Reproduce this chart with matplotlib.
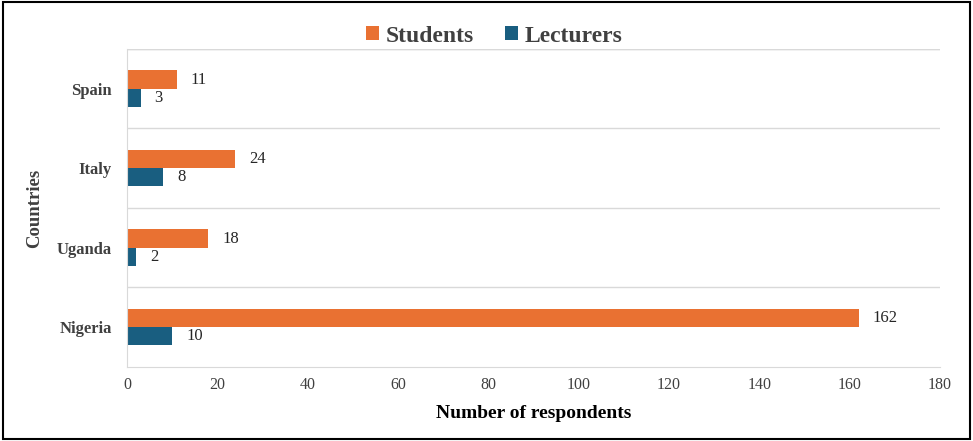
import numpy as np
import matplotlib.pyplot as plt
from matplotlib.patches import Rectangle

countries = ["Nigeria", "Uganda", "Italy", "Spain"]
students = [162, 18, 24, 11]
lecturers = [10, 2, 8, 3]

ORANGE = "#E97132"
BLUE = "#195E80"
GRID = "#D9D9D9"

plt.rcParams["font.family"] = ["Liberation Serif", "DejaVu Serif"]

fig = plt.figure(figsize=(9.73, 4.41), dpi=100)
ax = fig.add_axes([0.1305, 0.168, 0.8356, 0.721])

y = np.arange(len(countries))
h = 0.23
b1 = ax.barh(y + h / 2, students, height=h, color=ORANGE, label="Students")
b2 = ax.barh(y - h / 2, lecturers, height=h, color=BLUE, label="Lecturers")

for bars, vals in ((b1, students), (b2, lecturers)):
    for bar, v in zip(bars, vals):
        ax.annotate(str(v), (v, bar.get_y() + bar.get_height() / 2),
                    xytext=(10, 0), textcoords="offset points",
                    va="center", ha="left", fontsize=12, color="#262626")

ax.set_xlim(0, 180)
ax.set_ylim(-0.5, len(countries) - 0.5)
ax.set_xticks(np.arange(0, 181, 20))
ax.set_yticks(y)
ax.set_yticklabels(countries, fontweight="bold", fontsize=12, color="#404040")
ax.tick_params(axis="x", labelsize=11.5, labelcolor="#404040", length=0, pad=7)
ax.tick_params(axis="y", length=0, pad=11)

# category separators
for yy in np.arange(0.5, len(countries), 1.0):
    ax.axhline(yy, color=GRID, lw=1, zorder=0)

for s in ("top", "right"):
    ax.spines[s].set_visible(False)
ax.spines["left"].set_color(GRID)
ax.spines["bottom"].set_color(GRID)
ax.axhline(len(countries) - 0.5, color=GRID, lw=1, zorder=0)

ax.set_xlabel("Number of respondents", fontsize=14, fontweight="bold", labelpad=9)
ax.set_ylabel("Countries", fontsize=13.5, fontweight="bold", color="#404040", labelpad=10)

leg = fig.legend(handles=[b1, b2], loc="center", bbox_to_anchor=(0.508, 0.918),
                 ncol=2, frameon=False,
                 prop={"weight": "bold", "size": 17},
                 handlelength=0.55, handleheight=0.55, handletextpad=0.3,
                 columnspacing=1.3)
for t in leg.get_texts():
    t.set_color("#404040")

fig.patches.append(Rectangle((0.003, 0.005), 0.994, 0.99, transform=fig.transFigure,
                             fill=False, edgecolor="black", lw=1.5))

fig.savefig("out.png", dpi=100)
